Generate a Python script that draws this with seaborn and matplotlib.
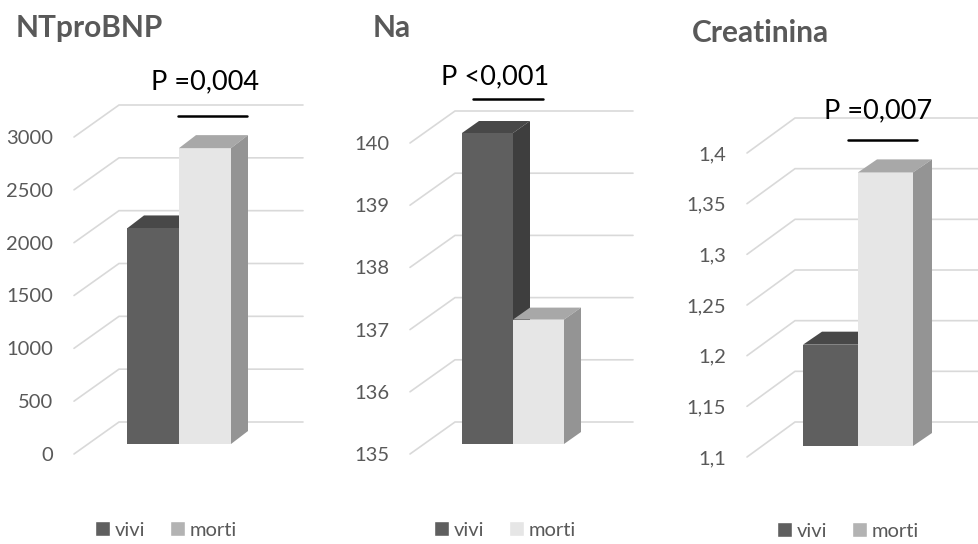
import matplotlib
matplotlib.use("Agg")
import matplotlib.pyplot as plt
import matplotlib.transforms as mtransforms
from matplotlib.patches import Polygon, Patch
from matplotlib.lines import Line2D
import pandas as pd
import seaborn as sns

# --- data -------------------------------------------------------------
gruppi = ["vivi", "morti"]
ntprobnp = [2040, 2800]
sodio = [140.0, 137.0]
creatinina = [1.20, 1.37]

titoli = ["NTproBNP", "Na", "Creatinina"]
p_valori = ["P =0,004", "P <0,001", "P =0,007"]

tick_ntprobnp = [0, 500, 1000, 1500, 2000, 2500, 3000]
tick_sodio = [135, 136, 137, 138, 139, 140]
tick_creatinina = [1.10, 1.15, 1.20, 1.25, 1.30, 1.35, 1.40]
etichette_ntprobnp = ["0", "500", "1000", "1500", "2000", "2500", "3000"]
etichette_sodio = ["135", "136", "137", "138", "139", "140"]
etichette_creatinina = ["1,1", "1,15", "1,2", "1,25", "1,3", "1,35", "1,4"]

# --- style ------------------------------------------------------------
sns.set_style("white")
plt.rcParams["font.family"] = ["Lato", "DejaVu Sans"]

GRIGIO_TESTO = "#595959"
GRIGIA_GRIGLIA = "#d9d9d9"
fronte = {"vivi": "#5f5f5f", "morti": "#e6e6e6"}
cima = {"vivi": "#484848", "morti": "#a8a8a8"}
fianco = {"vivi": "#3e3e3e", "morti": "#949494"}

W, H = 979, 544
fig = plt.figure(figsize=(W / 100, H / 100), dpi=100)


def fx(px):
    return px / W


def fy(py):
    return 1 - py / H


# pixel layout of each pseudo-3D panel (image coordinates, y downwards)
layout = [
    dict(L=74, R=303, T=95, B=470, ref=((0, 454), (3000, 137)), centri=(153, 205),
         pavimento=(45, 32), piano=10, prof=(17, 13), titolo=(16, 28),
         p=(205, 82), linea=(178, 247, 116), legenda=(166, 530), leg_morti="#b3b3b3"),
    dict(L=410, R=633, T=95, B=470, ref=((135, 454), (140, 143)), centri=(487.5, 538.5),
         pavimento=(45, 32), piano=10, prof=(17, 12), titolo=(373, 28),
         p=(495.5, 77), linea=(473, 543, 99), legenda=(505, 530), leg_morti="#e6e6e6"),
    dict(L=747, R=979, T=100, B=472, ref=((1.1, 457), (1.4, 153)), centri=(830.5, 885.5),
         pavimento=(48, 35), piano=11, prof=(19, 13), titolo=(692, 33),
         p=(878.5, 111), linea=(848, 917, 140), legenda=(848, 531), leg_morti="#b3b3b3"),
]

serie = [
    (ntprobnp, tick_ntprobnp, etichette_ntprobnp),
    (sodio, tick_sodio, etichette_sodio),
    (creatinina, tick_creatinina, etichette_creatinina),
]

for titolo, pv, (valori, ticks, etichette), lay in zip(titoli, p_valori, serie, layout):
    L, R, T, B = lay["L"], lay["R"], lay["T"], lay["B"]
    ax = fig.add_axes([fx(L), fy(B), (R - L) / W, (B - T) / H])

    df = pd.DataFrame({"gruppo": gruppi, "valore": valori})
    sns.barplot(data=df, x="gruppo", y="valore", hue="gruppo", order=gruppi,
                hue_order=gruppi, palette=fronte, width=1.0, saturation=1,
                legend=False, linewidth=0, ax=ax)

    # linear pixel <-> data mapping of the front plane
    (va, pya), (vb, pyb) = lay["ref"]
    k = (pya - pyb) / (vb - va)               # px per unit (y)
    c0, c1 = lay["centri"]
    m = c1 - c0                                # px per category (x)
    y0 = va - (B - pya) / k
    y1 = va + (pya - T) / k
    x0 = (L - c0) / m
    x1 = (R - c0) / m
    ax.set_xlim(x0, x1)
    ax.set_ylim(y0, y1)
    base = ticks[0]

    # back-wall grid: diagonal side wall + horizontal lines
    bx, by = lay["pavimento"]
    xb = x0 + bx / m
    for v in ticks:
        yb = v + by / k
        ax.plot([x0, xb, x1], [v, yb, yb], color=GRIGIA_GRIGLIA, lw=1.2,
                zorder=1, clip_on=False, solid_joinstyle="miter")

    # bars sit on a plane slightly behind the tick labels
    tr = ax.transData + mtransforms.ScaledTranslation(0, lay["piano"] / 100,
                                                      fig.dpi_scale_trans)
    ddx = lay["prof"][0] / m
    ddy = lay["prof"][1] / k
    barre = sorted(ax.patches, key=lambda p: p.get_x())
    for g, bar in zip(gruppi, barre):
        top = bar.get_height()
        xl = bar.get_x()
        xr = xl + bar.get_width()
        bar.set_y(base)
        bar.set_height(top - base)
        bar.set_transform(tr)
        z = 3 if g == "vivi" else 5
        bar.set_zorder(z)
        zf = z - 1 if g == "vivi" else z + 1
        ax.add_patch(Polygon([(xl, top), (xr, top), (xr + ddx, top + ddy), (xl + ddx, top + ddy)],
                             closed=True, facecolor=cima[g], lw=0, transform=tr,
                             zorder=zf, clip_on=False))
        ax.add_patch(Polygon([(xr, base), (xr, top), (xr + ddx, top + ddy), (xr + ddx, base + ddy)],
                             closed=True, facecolor=fianco[g], lw=0, transform=tr,
                             zorder=zf, clip_on=False))
        bar.set_clip_on(False)

    ax.set_xlabel("")
    ax.set_ylabel("")
    ax.set_xticks([])
    ax.set_yticks(ticks)
    ax.set_yticklabels(etichette)
    ax.tick_params(axis="y", length=0, pad=21 * 0.72, labelsize=14.5,
                   labelcolor=GRIGIO_TESTO)
    for s in ax.spines.values():
        s.set_visible(False)
    ax.patch.set_alpha(0)

    # title, p-value and bracket
    tx, ty = lay["titolo"]
    fig.text(fx(tx), fy(ty), titolo, ha="left", va="center", fontsize=21.5,
             fontweight="bold", color=GRIGIO_TESTO)
    px_, py_ = lay["p"]
    fig.text(fx(px_), fy(py_), pv, ha="center", va="center", fontsize=19.5, color="black")
    la, lb, ly = lay["linea"]
    fig.add_artist(Line2D([fx(la), fx(lb)], [fy(ly), fy(ly)], color="black", lw=1.8))

    # legend
    maniglie = [Patch(facecolor=fronte["vivi"], label="vivi"),
                Patch(facecolor=lay["leg_morti"], label="morti")]
    lx, lyy = lay["legenda"]
    ax.legend(handles=maniglie, loc="center", bbox_to_anchor=(fx(lx), fy(lyy)),
              bbox_transform=fig.transFigure, ncol=2, frameon=False,
              handlelength=0.75, handleheight=0.75, handletextpad=0.25,
              columnspacing=1.2, fontsize=14.5, labelcolor=GRIGIO_TESTO,
              borderaxespad=0)

fig.savefig("out.png", dpi=100)
